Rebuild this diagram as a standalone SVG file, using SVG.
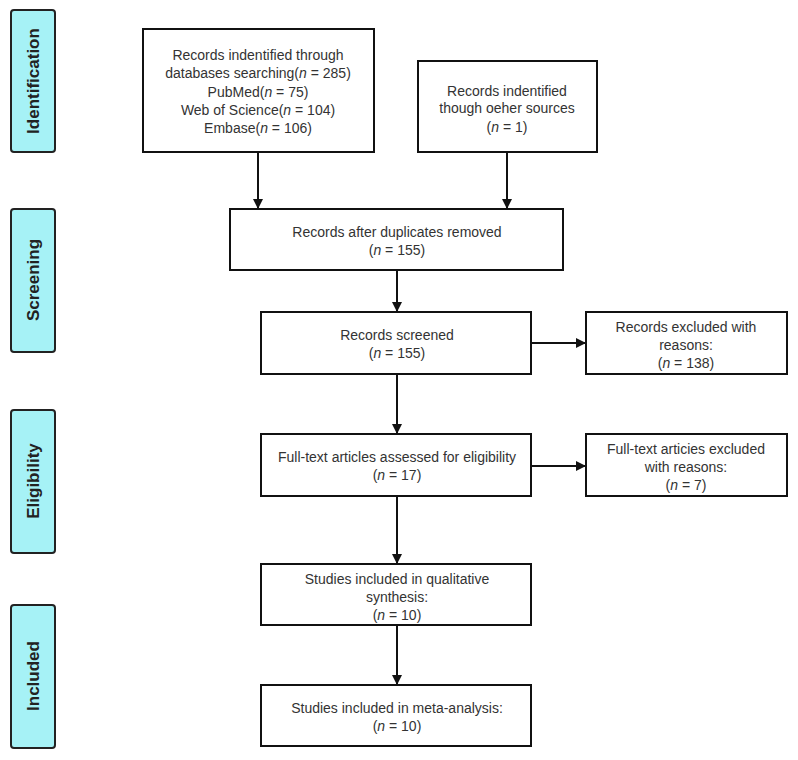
<svg xmlns="http://www.w3.org/2000/svg" width="798" height="760" viewBox="0 0 798 760">
<style>
.box{fill:#fff;stroke:#111;stroke-width:2}
.side{fill:#a6f2f6;stroke:#222;stroke-width:2}
.t{font-family:"Liberation Sans",Arial,sans-serif;font-size:14px;fill:#333;text-anchor:middle}
.s{font-family:"Liberation Sans",Arial,sans-serif;font-size:17px;font-weight:bold;fill:#222;text-anchor:middle}
.c{stroke:#111;stroke-width:2;fill:none;marker-end:url(#ah)}
</style>
<defs>
<marker id="ah" viewBox="0 0 10 10" refX="10" refY="5" markerWidth="5" markerHeight="5" orient="auto" markerUnits="strokeWidth">
<path d="M0,0 L10,5 L0,10 z" fill="#111"/>
</marker>
</defs>
<rect width="798" height="760" fill="#fff"/>
<g id="side-identification"><rect class="side" x="11" y="10" width="44" height="142" rx="3"/><text class="s" transform="translate(39,81) rotate(-90)">Identification</text></g>
<g id="side-screening"><rect class="side" x="11" y="209" width="44" height="143" rx="3"/><text class="s" transform="translate(39,280) rotate(-90)">Screening</text></g>
<g id="side-eligibility"><rect class="side" x="11" y="410" width="44" height="143" rx="3"/><text class="s" transform="translate(39,481) rotate(-90)">Eligibility</text></g>
<g id="side-included"><rect class="side" x="11" y="605" width="44" height="143" rx="3"/><text class="s" transform="translate(39,676) rotate(-90)">Included</text></g>

<g id="connectors">
<line class="c" x1="258" y1="152" x2="258" y2="209"/>
<line class="c" x1="507" y1="152" x2="507" y2="209"/>
<line class="c" x1="397" y1="270" x2="397" y2="312"/>
<line class="c" x1="531" y1="343" x2="586" y2="343"/>
<line class="c" x1="397" y1="374" x2="397" y2="434"/>
<line class="c" x1="531" y1="466" x2="586" y2="466"/>
<line class="c" x1="397" y1="496" x2="397" y2="564"/>
<line class="c" x1="397" y1="625" x2="397" y2="685"/>
</g>

<g id="n1"><rect class="box" x="143" y="29" width="231" height="123"/>
<text class="t" x="258" y="60">Records indentified through</text>
<text class="t" x="258" y="78">databases searching(<tspan font-style="italic">n</tspan> = 285)</text>
<text class="t" x="258" y="97">PubMed(<tspan font-style="italic">n</tspan> = 75)</text>
<text class="t" x="258" y="115">Web of Science(<tspan font-style="italic">n</tspan> = 104)</text>
<text class="t" x="258" y="133">Embase(<tspan font-style="italic">n</tspan> = 106)</text></g>

<g id="n2"><rect class="box" x="418" y="61" width="179" height="91"/>
<text class="t" x="507" y="96">Records indentified</text>
<text class="t" x="507" y="113">though oeher sources</text>
<text class="t" x="507" y="132">(<tspan font-style="italic">n</tspan> = 1)</text></g>

<g id="n3"><rect class="box" x="230" y="209" width="333" height="61"/>
<text class="t" x="397" y="237">Records after duplicates removed</text>
<text class="t" x="397" y="255">(<tspan font-style="italic">n</tspan> = 155)</text></g>

<g id="n4"><rect class="box" x="261" y="312" width="270" height="62"/>
<text class="t" x="397" y="340">Records screened</text>
<text class="t" x="397" y="358">(<tspan font-style="italic">n</tspan> = 155)</text></g>

<g id="n5"><rect class="box" x="586" y="312" width="201" height="62"/>
<text class="t" x="686" y="332">Records excluded with</text>
<text class="t" x="686" y="350">reasons:</text>
<text class="t" x="686" y="368">(<tspan font-style="italic">n</tspan> = 138)</text></g>

<g id="n6"><rect class="box" x="261" y="434" width="270" height="62"/>
<text class="t" x="397" y="462">Full-text articles assessed for eligibility</text>
<text class="t" x="397" y="480">(<tspan font-style="italic">n</tspan> = 17)</text></g>

<g id="n7"><rect class="box" x="586" y="434" width="201" height="62"/>
<text class="t" x="686" y="454">Full-text articies excluded</text>
<text class="t" x="686" y="472">with reasons:</text>
<text class="t" x="686" y="490">(<tspan font-style="italic">n</tspan> = 7)</text></g>

<g id="n8"><rect class="box" x="261" y="564" width="270" height="61"/>
<text class="t" x="397" y="584">Studies included in qualitative</text>
<text class="t" x="397" y="602">synthesis:</text>
<text class="t" x="397" y="620">(<tspan font-style="italic">n</tspan> = 10)</text></g>

<g id="n9"><rect class="box" x="261" y="685" width="270" height="61"/>
<text class="t" x="397" y="713">Studies included in meta-analysis:</text>
<text class="t" x="397" y="731">(<tspan font-style="italic">n</tspan> = 10)</text></g>
</svg>
